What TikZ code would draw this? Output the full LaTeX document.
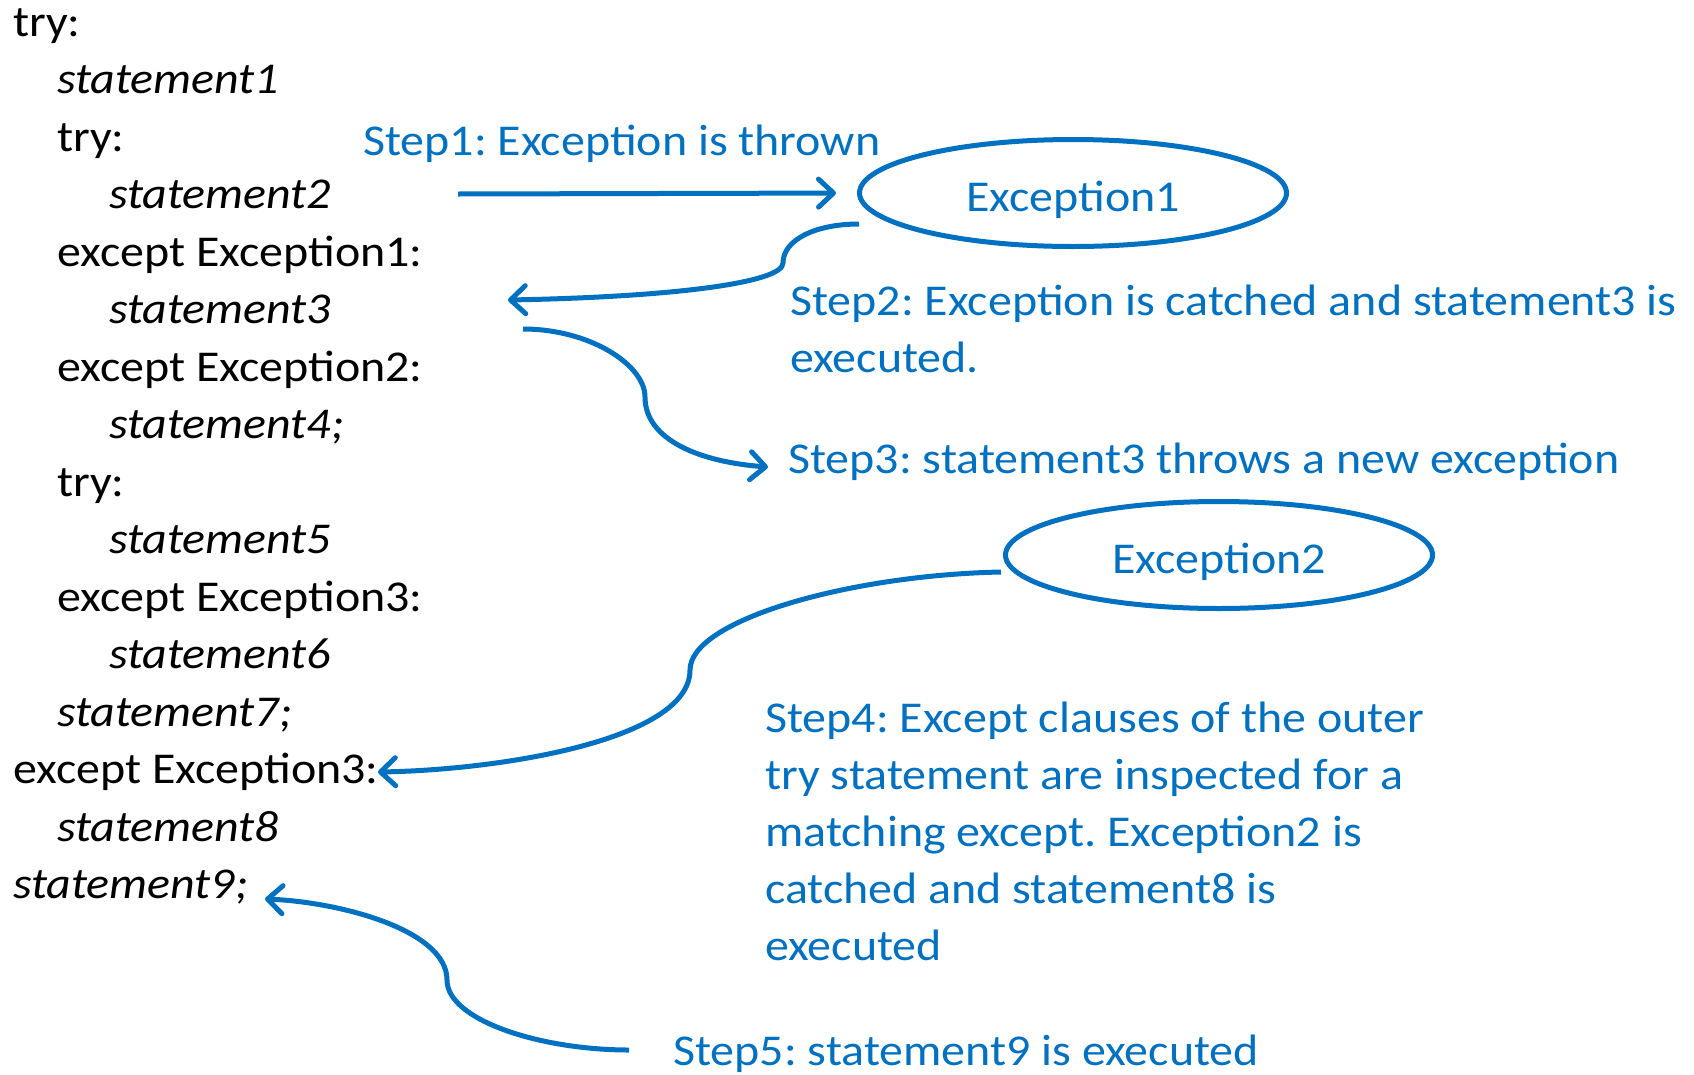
\documentclass[tikz,border=0pt]{standalone}
\usepackage{fontspec}
\setmainfont{Carlito}[FakeStretch=1.09]
\usetikzlibrary{arrows.meta,shapes.geometric,calc}
\definecolor{stepblue}{HTML}{0070C0}
\frenchspacing
\begin{document}
\begin{tikzpicture}[x=1pt,y=-1pt,
  code/.style={anchor=base west,inner sep=0pt,font=\fontsize{44}{57.5}\selectfont},
  codeit/.style={anchor=base west,inner sep=0pt,font=\fontsize{44}{57.5}\selectfont\itshape},
  steptext/.style={anchor=base west,inner sep=0pt,text=stepblue,font=\fontsize{44}{57.5}\selectfont},
  exc/.style={ellipse,draw=stepblue,line width=5pt,minimum width=427pt,minimum height=107pt,inner sep=0pt,text height=37pt,text depth=0pt,text=stepblue,font=\fontsize{44}{50}\selectfont},
  conn/.style={draw=stepblue,line width=5pt,-{Straight Barb[length=15pt,width=28pt,line cap=round,line join=round]}}
]
\useasboundingbox (0,0) rectangle (1694,1074);
% code
\node[code]   (l0)  at (13,36)    {try:};
\node[codeit] (l1)  at (57,93.5)  {statement1};
\node[code]   (l2)  at (57,151)   {try:};
\node[codeit] (l3)  at (109,208.5){statement2};
\node[code]   (l4)  at (57,266)   {except Exception1:};
\node[codeit] (l5)  at (109,323.5){statement3};
\node[code]   (l6)  at (57,381)   {except Exception2:};
\node[codeit] (l7)  at (109,438.5){statement4;};
\node[code]   (l8)  at (57,496)   {try:};
\node[codeit] (l9)  at (109,553.5){statement5};
\node[code]   (l10) at (57,611)   {except Exception3:};
\node[codeit] (l11) at (109,668.5){statement6};
\node[codeit] (l12) at (57,726)   {statement7;};
\node[code]   (l13) at (13,783.5) {except Exception3:};
\node[codeit] (l14) at (57,841)   {statement8};
\node[codeit] (l15) at (13,898.5) {statement9;};
% exceptions
\node[exc] (e1) at (1073,193) {Exception1};
\node[exc] (e2) at (1219,555) {Exception2};
% step texts
\node[steptext] (st1)  at (363,155) {Step1: Exception is thrown};
\node[steptext] (st2a) at (790,315) {Step2: Exception is catched and statement3 is};
\node[steptext] (st2b) at (790,372) {executed.};
\node[steptext] (st3)  at (788,473) {Step3: statement3 throws a new exception};
\node[steptext] (st4a) at (765,732) {Step4: Except clauses of the outer};
\node[steptext] (st4b) at (765,789) {try statement are inspected for a};
\node[steptext] (st4c) at (765,846) {matching except. Exception2 is};
\node[steptext] (st4d) at (765,903) {catched and statement8 is};
\node[steptext] (st4e) at (765,960) {executed};
\node[steptext] (st5)  at (673,1065) {Step5: statement9 is executed};
% connector ends
\coordinate (s1a) at (458,194);
\coordinate (t2) at (508,300);
\coordinate (s3a) at (523,329);
\coordinate (t3) at (768,467);
\coordinate (t4) at (378,772);
\coordinate (s5a) at (629,1050);
\coordinate (t5) at (265,899);
% connectors
\draw[conn,shorten >=21pt] (s1a) -- (e1.west);
\draw[conn] ($(e1.west)+(2,31)$) .. controls (815,224) and (783,240) .. (783,263) .. controls (783,283) and (670,297) .. (t2);
\draw[conn] (s3a) .. controls (590,329) and (645,365) .. (645,397) .. controls (645,440) and (700,462) .. (t3);
\draw[conn] ($(e2.west)+(-2,17)$) .. controls (850,575) and (690,620) .. (690,670) .. controls (690,740) and (500,770) .. (t4);
\draw[conn] (s5a) .. controls (540,1050) and (447,1020) .. (447,980) .. controls (447,930) and (340,902) .. (t5);
\end{tikzpicture}
\end{document}
